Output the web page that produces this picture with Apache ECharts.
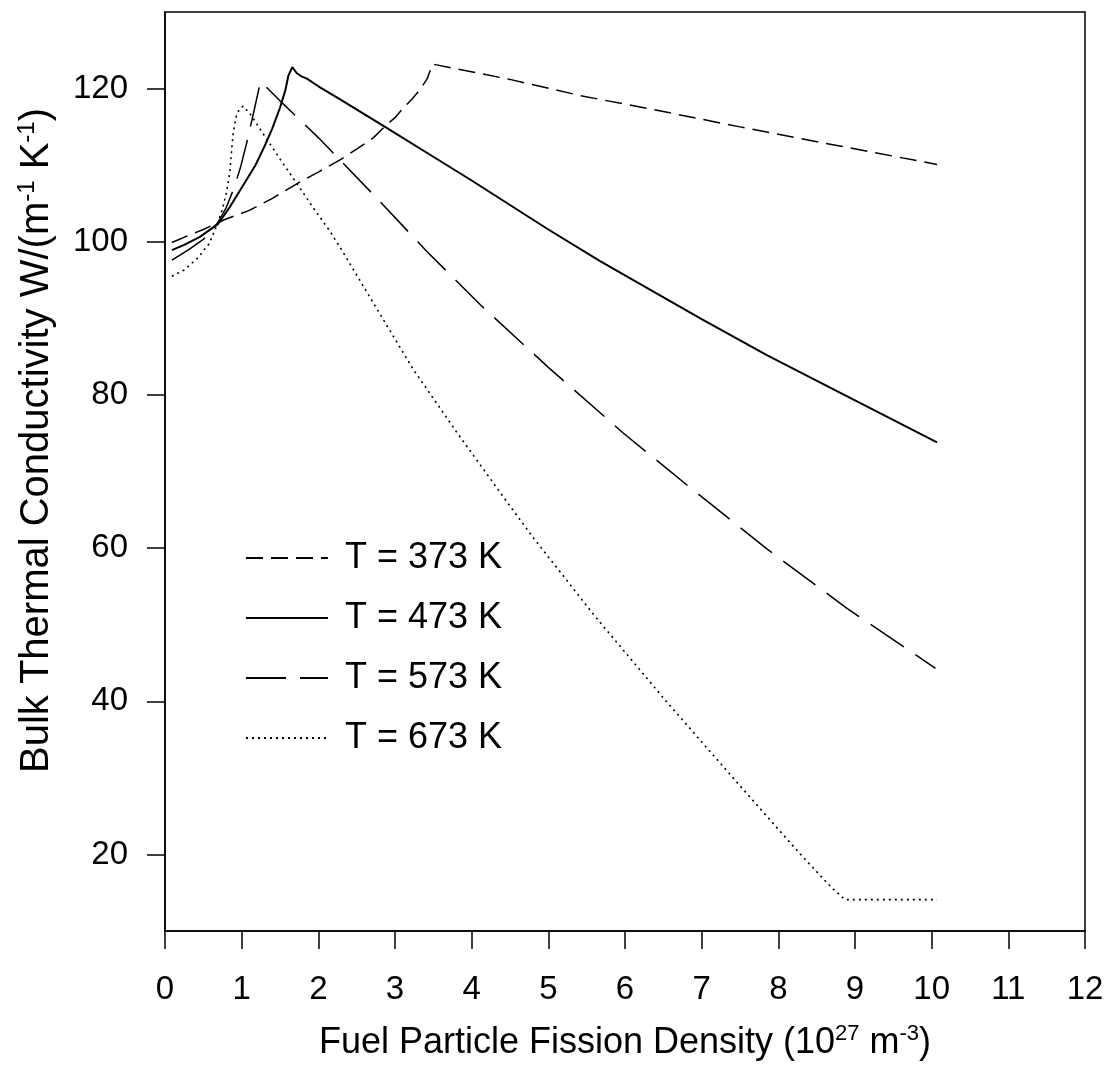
<!DOCTYPE html>
<html>
<head>
<meta charset="utf-8">
<script src="https://cdn.jsdelivr.net/npm/echarts@6/dist/echarts.min.js"></script>
<style>
html,body{margin:0;padding:0;background:#fff;}
#chart{width:1110px;height:1072px;}
</style>
</head>
<body>
<div id="chart"></div>
<script>
// ---- data ----
const seriesNames = ['T = 373 K', 'T = 473 K', 'T = 573 K', 'T = 673 K'];

const x373 = [0.09, 0.3, 0.5, 0.78, 1.1, 1.39, 1.74, 2.0, 2.30, 2.5, 2.72, 2.87, 3.0, 3.11, 3.22, 3.33, 3.42, 3.49, 4.5, 5.41, 6.5, 7.5, 8.8, 10.07];
const y373 = [99.9, 100.8, 101.6, 102.9, 104.1, 105.6, 107.7, 109.1, 110.8, 112.1, 113.6, 115.1, 116.2, 117.5, 118.6, 119.9, 121.3, 123.2, 121.2, 119.1, 117.0, 115.0, 112.5, 110.1];

const x473 = [0.09, 0.25, 0.45, 0.69, 0.85, 1.04, 1.18, 1.30, 1.40, 1.50, 1.57, 1.61, 1.66, 1.72, 1.78, 1.85, 2.0, 2.3, 2.87, 3.5, 4.0, 4.5, 5.0, 5.67, 6.0, 7.0, 7.85, 9.0, 10.07];
const y473 = [98.9, 99.6, 100.6, 102.3, 104.6, 107.7, 110.0, 112.5, 114.8, 117.5, 119.8, 121.7, 122.8, 122.0, 121.6, 121.3, 120.3, 118.5, 115.0, 111.1, 108.0, 104.8, 101.6, 97.5, 95.6, 89.9, 85.2, 79.3, 73.8];

const x573 = [0.09, 0.3, 0.5, 0.69, 0.8, 0.9, 0.99, 1.08, 1.17, 1.245, 1.32, 1.5, 2.0, 2.8, 3.4, 4.11, 5.0, 5.98, 6.8, 7.85, 8.9, 10.05];
const y573 = [97.6, 98.9, 100.3, 102.5, 104.5, 107.0, 109.9, 113.5, 117.5, 120.9, 120.2, 118.4, 113.6, 105.3, 98.9, 91.8, 83.6, 75.0, 68.3, 59.9, 52.1, 44.3];

const x673 = [0.09, 0.25, 0.43, 0.58, 0.69, 0.75, 0.80, 0.845, 0.87, 0.89, 0.93, 0.97, 1.02, 1.11, 1.30, 1.50, 1.74, 1.95, 2.15, 2.30, 2.7, 3.24, 3.8, 4.39, 4.8, 5.6, 6.52, 7.4, 8.29, 8.70, 8.87, 10.07];
const y673 = [95.5, 96.3, 97.9, 99.8, 102.5, 104.3, 106.4, 109.0, 112.1, 114.3, 116.4, 117.3, 117.7, 116.7, 113.8, 110.8, 107.3, 104.2, 101.4, 99.0, 92.3, 83.3, 75.2, 67.0, 61.4, 51.2, 40.2, 30.1, 20.0, 15.6, 14.1, 14.1];

const yTicks = [20, 40, 60, 80, 100, 120];

// ---- build ----
function pairs(xs, ys) { return xs.map((x, i) => [x, ys[i]]); }
const FONT = 'Liberation Sans, Arial, sans-serif';
const chart = echarts.init(document.getElementById('chart'));

const dashes = [[17, 8], null, [40, 14], [2, 4]];
const widths = [1.5, 2, 1.5, 1.6];
const allX = [x373, x473, x573, x673];
const allY = [y373, y473, y573, y673];
const clear = 'rgba(0,0,0,0)';

chart.setOption({
  animation: false,
  backgroundColor: '#fff',
  grid: { left: 165, right: 25, top: 12, bottom: 141, show: true, borderColor: '#000', borderWidth: 1.5, backgroundColor: 'transparent' },
  legend: {
    orient: 'vertical', left: 240, top: 535,
    itemWidth: 82, itemHeight: 14, itemGap: 24,
    itemStyle: { color: clear, borderColor: clear, borderWidth: 0, opacity: 0 },
    textStyle: { fontFamily: FONT, fontSize: 36, color: '#000', lineHeight: 36, padding: [0, 0, 0, 12] },
    data: seriesNames
  },
  xAxis: {
    type: 'value', min: 0, max: 12, interval: 1,
    name: 'Fuel Particle Fission Density (10{s|27} m{s|-3})',
    nameLocation: 'middle', nameGap: 92,
    nameTextStyle: { fontFamily: FONT, fontSize: 36, color: '#000', lineHeight: 40,
      rich: { s: { fontFamily: FONT, fontSize: 22, color: '#000', verticalAlign: 'top', lineHeight: 40 } } },
    axisLine: { lineStyle: { color: '#000', width: 1.5 } },
    axisTick: { show: true, inside: false, length: 18, lineStyle: { color: '#000', width: 1.5 } },
    axisLabel: { fontFamily: FONT, fontSize: 33, color: '#000', margin: 42 },
    splitLine: { show: false }
  },
  yAxis: {
    type: 'value', min: 10, max: 130,
    name: 'Bulk Thermal Conductivity W/(m{s|-1} K{s|-1})',
    nameLocation: 'middle', nameGap: 106, nameRotate: 90,
    nameTextStyle: { fontFamily: FONT, fontSize: 40, color: '#000', lineHeight: 44, padding: [0, 0, 0, 62],
      rich: { s: { fontFamily: FONT, fontSize: 24, color: '#000', verticalAlign: 'top', lineHeight: 44 } } },
    axisLine: { show: true, lineStyle: { color: '#000', width: 1.5 } },
    axisTick: { show: true, inside: false, length: 18, customValues: yTicks, lineStyle: { color: '#000', width: 1.5 } },
    axisLabel: { fontFamily: FONT, fontSize: 33, color: '#000', margin: 37, customValues: yTicks },
    splitLine: { show: false }
  },
  series: seriesNames.map((nm, i) => ({
    name: nm, type: 'line', showSymbol: false, symbol: 'none', smooth: false,
    data: pairs(allX[i], allY[i]),
    lineStyle: { color: '#000', width: widths[i], type: dashes[i] ? dashes[i] : 'solid' },
    itemStyle: { color: '#000' }
  }))
});
</script>
</body>
</html>
